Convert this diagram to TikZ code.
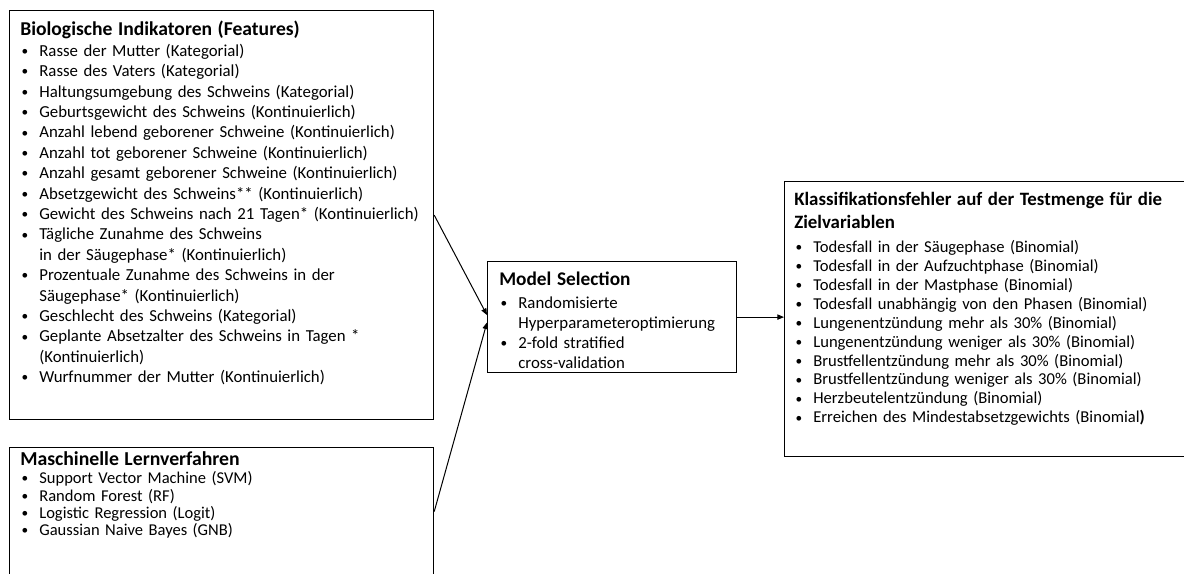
\documentclass[tikz,border=0pt]{standalone}
\usepackage{fontspec}
\setmainfont{Carlito}
\usetikzlibrary{positioning,arrows.meta}

\newcommand{\bul}[1]{\noindent\hangindent=14.3pt\hangafter=1\makebox[14.3pt][l]{\hspace{1pt}\raisebox{0.6pt}{\fontsize{10}{10}\selectfont\textbullet}}#1\par}
\newcommand{\boxtitle}[2]{{\fontsize{#1}{17}\selectfont\bfseries #2\par}}

\tikzset{
  panel/.style={draw, line width=0.9pt, inner sep=0pt, anchor=north west},
  paneltext/.style={inner sep=0pt, text width=#1, align=left},
  link/.style={-{Triangle[length=5pt,width=4pt]}, line width=0.75pt}
}

\begin{document}
\begin{tikzpicture}[x=0.75pt,y=-0.75pt]
    \useasboundingbox (0,0) rectangle (1184,574);
    \clip (0,0) rectangle (1184,574);
    % boxes
    \node[panel, minimum width=318pt, minimum height=306.75pt] (feat) at (9,10) {};
    \node[panel, minimum width=318pt, minimum height=96pt] (learn) at (9,447) {};
    \node[panel, minimum width=186.75pt, minimum height=83.25pt] (msel) at (487,261) {};
    \node[panel, minimum width=304.5pt, minimum height=206.25pt] (target) at (784,181) {};
    % texts
    \node[paneltext=300pt, font=\fontsize{12.6}{15.3}\selectfont,
          below right=8.25pt and 8.25pt of feat.north west] (featT) {%
        \boxtitle{14.7}{Biologische Indikatoren (Features)}%
        \bul{Rasse der Mutter (Kategorial)}
        \bul{Rasse des Vaters (Kategorial)}
        \bul{Haltungsumgebung des Schweins (Kategorial)}
        \bul{Geburtsgewicht des Schweins (Kontinuierlich)}
        \bul{Anzahl lebend geborener Schweine (Kontinuierlich)}
        \bul{Anzahl tot geborener Schweine (Kontinuierlich)}
        \bul{Anzahl gesamt geborener Schweine (Kontinuierlich)}
        \bul{Absetzgewicht des Schweins** (Kontinuierlich)}
        \bul{Gewicht des Schweins nach 21 Tagen* (Kontinuierlich)}
        \bul{Tägliche Zunahme des Schweins\newline in der Säugephase* (Kontinuierlich)}
        \bul{Prozentuale Zunahme des Schweins in der\newline Säugephase* (Kontinuierlich)}
        \bul{Geschlecht des Schweins (Kategorial)}
        \bul{Geplante Absetzalter des Schweins in Tagen *\newline (Kontinuierlich)}
        \bul{Wurfnummer der Mutter (Kontinuierlich)}};
    \node[paneltext=300pt, font=\fontsize{12.4}{13}\selectfont,
          below right=3pt and 8.25pt of learn.north west] (learnT) {%
        \boxtitle{14.8}{Maschinelle Lernverfahren}\vspace{1pt}%
        \bul{Support Vector Machine (SVM)}
        \bul{Random Forest (RF)}
        \bul{Logistic Regression (Logit)}
        \bul{Gaussian Naive Bayes (GNB)}};
    \node[paneltext=172pt, font=\fontsize{12.6}{15}\selectfont,
          below right=8.25pt and 9pt of msel.north west] (mselT) {%
        \boxtitle{14.5}{Model Selection}\vspace{2pt}%
        \bul{Randomisierte\newline Hyperparameteroptimierung}
        \bul{2-fold stratified\newline cross-validation}};
    \node[paneltext=292pt, font=\fontsize{12.45}{14.2}\selectfont,
          below right=8.25pt and 7.5pt of target.north west] (targetT) {%
        \boxtitle{14.15}{Klassifikationsfehler auf der Testmenge für die\\Zielvariablen}\vspace{4pt}%
        \bul{Todesfall in der Säugephase (Binomial)}
        \bul{Todesfall in der Aufzuchtphase (Binomial)}
        \bul{Todesfall in der Mastphase (Binomial)}
        \bul{Todesfall unabhängig von den Phasen (Binomial)}
        \bul{Lungenentzündung mehr als 30\% (Binomial)}
        \bul{Lungenentzündung weniger als 30\% (Binomial)}
        \bul{Brustfellentzündung mehr als 30\% (Binomial)}
        \bul{Brustfellentzündung weniger als 30\% (Binomial)}
        \bul{Herzbeutelentzündung (Binomial)}
        \bul{Erreichen des Mindestabsetzgewichts (Binomial\textbf{)}}};
    % arrows
    \draw[link] (feat.east) -- ([yshift=1.5pt]msel.west);
    \draw[link] (learn.east) -- ([yshift=-4pt]msel.west);
    \draw[link] (msel.east) -- (msel.east -| target.west);
\end{tikzpicture}
\end{document}
